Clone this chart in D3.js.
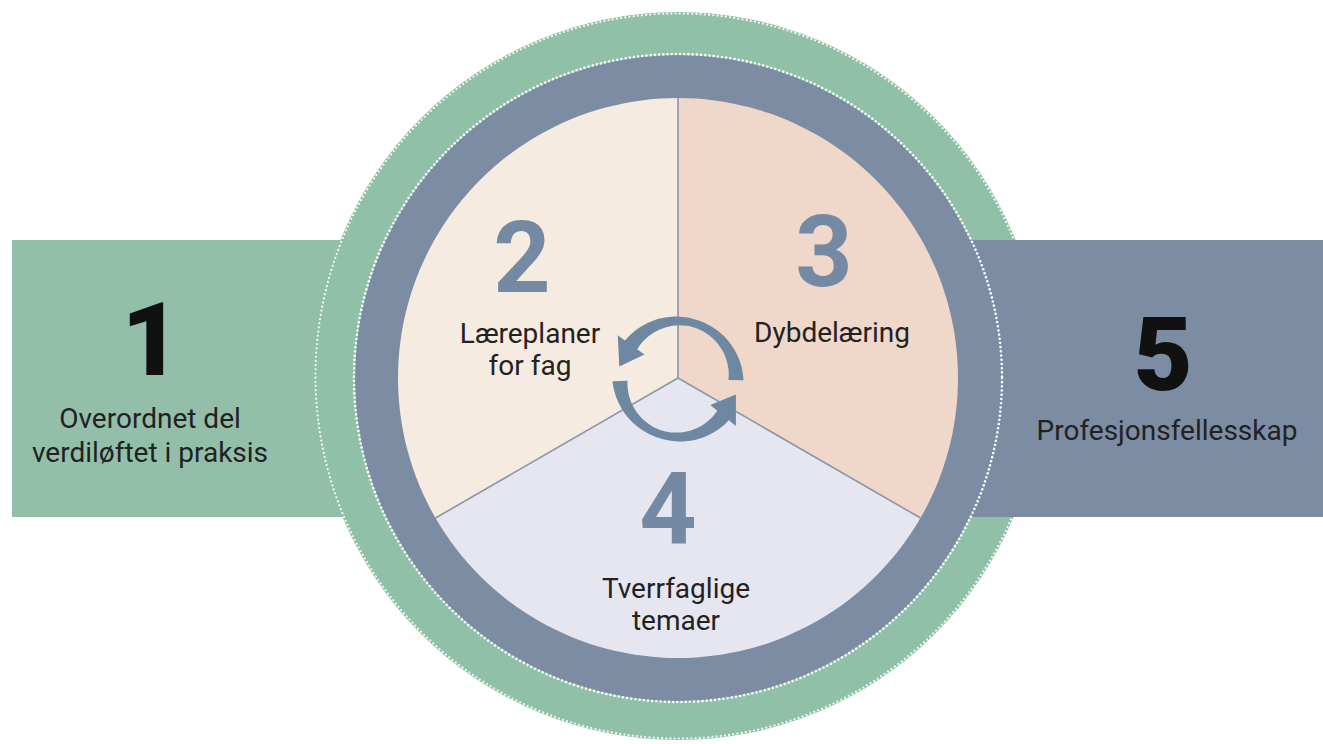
<!DOCTYPE html>
<html>
<head>
<meta charset="utf-8">
<script src="https://cdn.jsdelivr.net/npm/d3@7"></script>
<style>
  html, body { margin: 0; padding: 0; background: #fff; }
  svg { display: block; font-family: Roboto, "Noto Sans", sans-serif; }
</style>
</head>
<body>
<svg id="chart"></svg>
<script>
// data
var sliceNumbers = ["2", "3", "4"];
var sliceLabels = [["Læreplaner", "for fag"], ["Dybdelæring"], ["Tverrfaglige", "temaer"]];
var sliceShares = [1, 1, 1];
var sideNumbers = ["1", "5"];
var sideLabels = [["Overordnet del", "verdiløftet i praksis"], ["Profesjonsfellesskap"]];

var W = 1323, H = 744;
var cx = 678, cy = 378;
var rOuter = 364, rDots = 323, rPie = 280;

var green = "#90c0a8", blue = "#7b8ca3";
var sliceFill = ["#f5ebe0", "#efd7ca", "#e6e6f1"];

// layout offsets (relative to center) for the slice texts
var numPos = [[-156, -86], [146, -92], [-10, 166]];
var labPos = [[-148, -35], [154, -36], [-2, 220]];

var svg = d3.select("#chart").attr("width", W).attr("height", H);

// left band (under the circle)
svg.append("rect")
    .attr("x", 12).attr("y", 240)
    .attr("width", cx - 12).attr("height", 277)
    .attr("fill", "#93bfaa");

// green outer disc
svg.append("circle")
    .attr("cx", cx).attr("cy", cy - 2).attr("r", rOuter)
    .attr("fill", green);
svg.append("circle")
    .attr("cx", cx).attr("cy", cy - 2).attr("r", rOuter - 1.5)
    .attr("fill", "none")
    .attr("stroke", "#fff").attr("stroke-width", 2.2)
    .attr("stroke-dasharray", "0.01 4.2").attr("stroke-linecap", "round")
    .attr("opacity", 0.9);

// right band (over the green ring)
svg.append("rect")
    .attr("x", cx).attr("y", 240)
    .attr("width", W - cx).attr("height", 277)
    .attr("fill", blue);

// blue ring
svg.append("circle")
    .attr("cx", cx).attr("cy", cy).attr("r", rDots)
    .attr("fill", blue);
svg.append("circle")
    .attr("cx", cx).attr("cy", cy).attr("r", rDots + 1)
    .attr("fill", "none")
    .attr("stroke", "#fff").attr("stroke-width", 2.6)
    .attr("stroke-dasharray", "0.01 4.2").attr("stroke-linecap", "round");

// pie
var pie = d3.pie().sort(null).startAngle(-2 * Math.PI / 3).endAngle(4 * Math.PI / 3);
var arcs = pie(sliceShares);
var arc = d3.arc().innerRadius(0).outerRadius(rPie);

var gPie = svg.append("g").attr("transform", "translate(" + cx + "," + cy + ")");
gPie.selectAll("path.slice")
    .data(arcs).enter().append("path")
    .attr("class", "slice")
    .attr("d", arc)
    .attr("fill", function (d, i) { return sliceFill[i]; });

// divider lines
gPie.selectAll("line.div")
    .data(arcs).enter().append("line")
    .attr("class", "div")
    .attr("x1", 0).attr("y1", 0)
    .attr("x2", function (d) { return Math.sin(d.startAngle) * rPie; })
    .attr("y2", function (d) { return -Math.cos(d.startAngle) * rPie; })
    .attr("stroke", "#8d96a5").attr("stroke-width", 1.6);

// cycle arrows
function arrowPath(a0, a1, tipA, r, wEnd, wMid, headW) {
    var n = 60, outer = [], inner = [];
    for (var i = 0; i <= n; i++) {
        var t = i / n;
        var a = a0 + (a1 - a0) * t;
        var w = wMid + (wEnd - wMid) * Math.pow(Math.abs(2 * t - 1), 1.6);
        outer.push([Math.sin(a) * (r + w / 2), -Math.cos(a) * (r + w / 2)]);
        inner.push([Math.sin(a) * (r - w / 2), -Math.cos(a) * (r - w / 2)]);
    }
    var p = d3.path();
    p.moveTo(outer[0][0], outer[0][1]);
    outer.forEach(function (q) { p.lineTo(q[0], q[1]); });
    p.lineTo(Math.sin(a1) * (r + headW / 2), -Math.cos(a1) * (r + headW / 2));
    p.lineTo(Math.sin(tipA) * (r + 2), -Math.cos(tipA) * (r + 2));
    p.lineTo(Math.sin(a1) * (r - headW / 2), -Math.cos(a1) * (r - headW / 2));
    inner.reverse().forEach(function (q) { p.lineTo(q[0], q[1]); });
    p.closePath();
    return p.toString();
}
var deg = Math.PI / 180;
var gArrow = svg.append("g").attr("transform", "translate(" + cx + "," + (cy + 1) + ")");
gArrow.append("path")
    .attr("d", arrowPath(91 * deg, -54 * deg, -78 * deg, 58, 15, 8, 33))
    .attr("fill", "#6f88a2");
gArrow.append("path")
    .attr("d", arrowPath(268 * deg, 129 * deg, 105 * deg, 58, 15, 8, 33))
    .attr("fill", "#6f88a2");

// slice numbers and labels
gPie.selectAll("text.num")
    .data(sliceNumbers).enter().append("text")
    .attr("class", "num")
    .attr("x", function (d, i) { return numPos[i][0]; })
    .attr("y", function (d, i) { return numPos[i][1]; })
    .attr("text-anchor", "middle")
    .attr("font-size", 100).attr("font-weight", 700)
    .attr("fill", "#7489a3")
    .text(function (d) { return d; });

gPie.selectAll("text.lab")
    .data(sliceLabels).enter().append("text")
    .attr("class", "lab")
    .attr("text-anchor", "middle")
    .attr("font-size", 28).attr("fill", "#222")
    .each(function (d, i) {
        var t = d3.select(this);
        d.forEach(function (line, j) {
            t.append("tspan")
                .attr("x", labPos[i][0])
                .attr("y", labPos[i][1] + j * 32)
                .text(line);
        });
    });

// side texts
var sideNumPos = [[151, 375], [1163, 390]];
var sideLabPos = [[150, 428], [1167, 440]];

svg.selectAll("text.sidenum")
    .data(sideNumbers).enter().append("text")
    .attr("class", "sidenum")
    .attr("x", function (d, i) { return sideNumPos[i][0]; })
    .attr("y", function (d, i) { return sideNumPos[i][1]; })
    .attr("text-anchor", "middle")
    .attr("font-size", 102).attr("font-weight", 900)
    .attr("fill", "#111")
    .text(function (d) { return d; });

svg.selectAll("text.sidelab")
    .data(sideLabels).enter().append("text")
    .attr("class", "sidelab")
    .attr("text-anchor", "middle")
    .attr("font-size", 28).attr("fill", "#222")
    .each(function (d, i) {
        var t = d3.select(this);
        d.forEach(function (line, j) {
            t.append("tspan")
                .attr("x", sideLabPos[i][0])
                .attr("y", sideLabPos[i][1] + j * 34)
                .text(line);
        });
    });
</script>
</body>
</html>
